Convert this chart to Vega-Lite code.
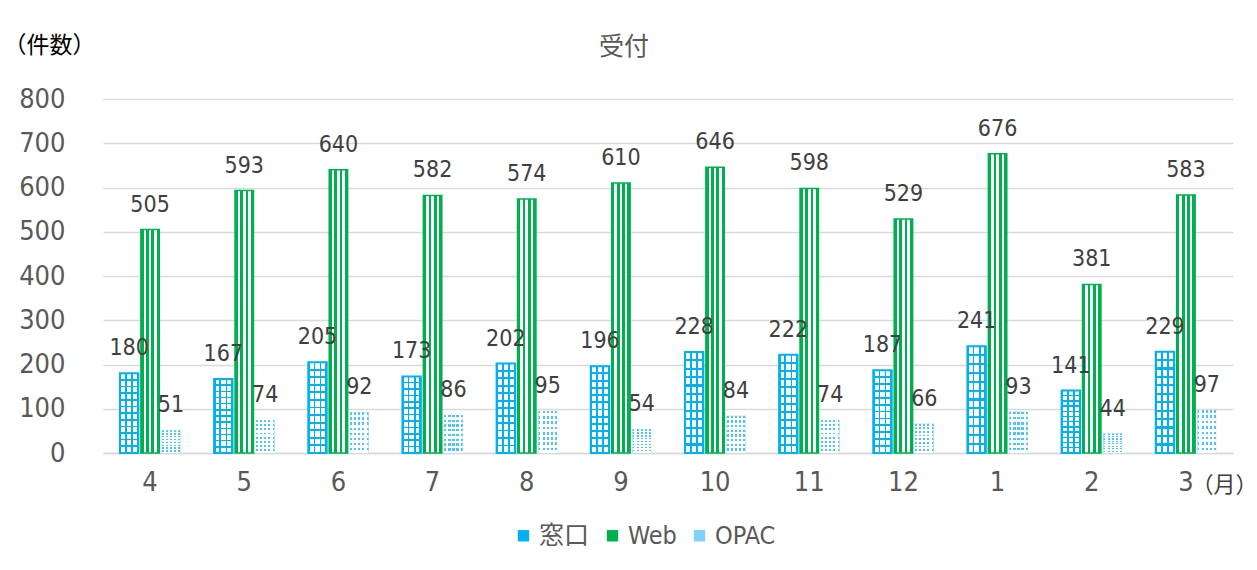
{
  "$schema": "https://vega.github.io/schema/vega-lite/v6.json",
  "width": 1130,
  "height": 354,
  "autosize": {"type": "none"},
  "padding": {"left": 103, "top": 99, "right": 24, "bottom": 117},
  "background": "white",
  "title": {
    "text": "受付",
    "anchor": "middle",
    "dx": -44,
    "offset": -51,
    "baseline": "bottom",
    "font": "Noto Sans CJK JP",
    "fontSize": 25,
    "fontWeight": "normal",
    "color": "#595959"
  },
  "config": {
    "view": {"stroke": null},
    "font": "Liberation Sans Narrow, DejaVu Sans Condensed, Noto Sans CJK JP, sans-serif"
  },
  "data": {
    "values": [
      {"month": "4", "series": "窓口", "value": 180},
      {"month": "4", "series": "Web", "value": 505},
      {"month": "4", "series": "OPAC", "value": 51},
      {"month": "5", "series": "窓口", "value": 167},
      {"month": "5", "series": "Web", "value": 593},
      {"month": "5", "series": "OPAC", "value": 74},
      {"month": "6", "series": "窓口", "value": 205},
      {"month": "6", "series": "Web", "value": 640},
      {"month": "6", "series": "OPAC", "value": 92},
      {"month": "7", "series": "窓口", "value": 173},
      {"month": "7", "series": "Web", "value": 582},
      {"month": "7", "series": "OPAC", "value": 86},
      {"month": "8", "series": "窓口", "value": 202},
      {"month": "8", "series": "Web", "value": 574},
      {"month": "8", "series": "OPAC", "value": 95},
      {"month": "9", "series": "窓口", "value": 196},
      {"month": "9", "series": "Web", "value": 610},
      {"month": "9", "series": "OPAC", "value": 54},
      {"month": "10", "series": "窓口", "value": 228},
      {"month": "10", "series": "Web", "value": 646},
      {"month": "10", "series": "OPAC", "value": 84},
      {"month": "11", "series": "窓口", "value": 222},
      {"month": "11", "series": "Web", "value": 598},
      {"month": "11", "series": "OPAC", "value": 74},
      {"month": "12", "series": "窓口", "value": 187},
      {"month": "12", "series": "Web", "value": 529},
      {"month": "12", "series": "OPAC", "value": 66},
      {"month": "1", "series": "窓口", "value": 241},
      {"month": "1", "series": "Web", "value": 676},
      {"month": "1", "series": "OPAC", "value": 93},
      {"month": "2", "series": "窓口", "value": 141},
      {"month": "2", "series": "Web", "value": 381},
      {"month": "2", "series": "OPAC", "value": 44},
      {"month": "3", "series": "窓口", "value": 229},
      {"month": "3", "series": "Web", "value": 583},
      {"month": "3", "series": "OPAC", "value": 97}
    ]
  },
  "encoding": {
    "x": {
      "field": "month",
      "type": "nominal",
      "sort": ["4", "5", "6", "7", "8", "9", "10", "11", "12", "1", "2", "3"],
      "scale": {"paddingInner": 0.36, "paddingOuter": 0.18},
      "axis": {
        "title": "（月）",
        "titleFont": "Noto Sans CJK JP",
        "titleFontSize": 22,
        "titleFontWeight": "normal",
        "titleColor": "#404040",
        "titleAlign": "left",
        "titleAnchor": null,
        "titleX": 1088,
        "titleY": 31,
        "titleBaseline": "middle",
        "labelAngle": 0,
        "labelFontSize": 27,
        "labelColor": "#595959",
        "labelPadding": 16,
        "ticks": false,
        "domainColor": "#d9d9d9",
        "domainWidth": 1.5,
        "grid": false
      }
    },
    "xOffset": {
      "field": "series",
      "type": "nominal",
      "sort": ["窓口", "Web", "OPAC"],
      "scale": {"domain": ["窓口", "Web", "OPAC"], "paddingInner": 0.12, "paddingOuter": 0}
    },
    "y": {
      "field": "value",
      "type": "quantitative",
      "scale": {"domain": [0, 800]},
      "axis": {
        "title": "（件数）",
        "titleFont": "Noto Sans CJK JP",
        "titleFontSize": 23,
        "titleFontWeight": "normal",
        "titleColor": "#000000",
        "titleAngle": 0,
        "titleAlign": "center",
        "titleAnchor": null,
        "titleBaseline": "middle",
        "titleX": -54,
        "titleY": -54,
        "values": [0, 100, 200, 300, 400, 500, 600, 700, 800],
        "labelFontSize": 27,
        "labelColor": "#595959",
        "labelPadding": 38,
        "ticks": false,
        "domain": false,
        "gridColor": "#d9d9d9",
        "gridWidth": 1.5
      }
    }
  },
  "layer": [
    {
      "mark": {"type": "bar"},
      "encoding": {
        "color": {
          "field": "series",
          "type": "nominal",
          "sort": ["窓口", "Web", "OPAC"],
          "scale": {"domain": ["窓口", "Web", "OPAC"], "range": ["#00B0F0", "#00B050", "#7FD3F7"]},
          "legend": {
            "title": null,
            "orient": "none",
            "direction": "horizontal",
            "legendX": 408,
            "legendY": 424,
            "symbolType": "square",
            "symbolSize": 130,
            "symbolStrokeWidth": 0,
            "labelFontSize": 25,
            "labelColor": "#595959",
            "labelOffset": 3,
            "columnSpacing": 14
          }
        }
      }
    },
    {
      "transform": [{"filter": "datum.series === '窓口'"}],
      "mark": {
        "type": "bar",
        "stroke": "#00B0F0",
        "strokeWidth": 2,
        "fill": {
          "gradient": "linear",
          "x1": 0, "y1": 0, "x2": 1, "y2": 0,
          "stops": [
            {"offset": 0, "color": "#00B0F0"},
            {"offset": 0.08, "color": "#00B0F0"},
            {"offset": 0.08, "color": "#ffffff"},
            {"offset": 0.29, "color": "#ffffff"},
            {"offset": 0.29, "color": "#00B0F0"},
            {"offset": 0.38, "color": "#00B0F0"},
            {"offset": 0.38, "color": "#ffffff"},
            {"offset": 0.62, "color": "#ffffff"},
            {"offset": 0.62, "color": "#00B0F0"},
            {"offset": 0.71, "color": "#00B0F0"},
            {"offset": 0.71, "color": "#ffffff"},
            {"offset": 0.92, "color": "#ffffff"},
            {"offset": 0.92, "color": "#00B0F0"},
            {"offset": 1, "color": "#00B0F0"}
          ]
        }
      }
    },
    {
      "transform": [{"filter": "datum.series === '窓口'"}],
      "mark": {
        "type": "bar",
        "fill": {
          "gradient": "linear",
          "x1": 0, "y1": 0, "x2": 0, "y2": 1,
          "stops": [
            {"offset": 0, "color": "rgba(255,255,255,0)"},
            {"offset": 0.071, "color": "rgba(255,255,255,0)"},
            {"offset": 0.071, "color": "#00B0F0"},
            {"offset": 0.092, "color": "#00B0F0"},
            {"offset": 0.092, "color": "rgba(255,255,255,0)"},
            {"offset": 0.155, "color": "rgba(255,255,255,0)"},
            {"offset": 0.155, "color": "#00B0F0"},
            {"offset": 0.176, "color": "#00B0F0"},
            {"offset": 0.176, "color": "rgba(255,255,255,0)"},
            {"offset": 0.238, "color": "rgba(255,255,255,0)"},
            {"offset": 0.238, "color": "#00B0F0"},
            {"offset": 0.259, "color": "#00B0F0"},
            {"offset": 0.259, "color": "rgba(255,255,255,0)"},
            {"offset": 0.321, "color": "rgba(255,255,255,0)"},
            {"offset": 0.321, "color": "#00B0F0"},
            {"offset": 0.342, "color": "#00B0F0"},
            {"offset": 0.342, "color": "rgba(255,255,255,0)"},
            {"offset": 0.405, "color": "rgba(255,255,255,0)"},
            {"offset": 0.405, "color": "#00B0F0"},
            {"offset": 0.426, "color": "#00B0F0"},
            {"offset": 0.426, "color": "rgba(255,255,255,0)"},
            {"offset": 0.488, "color": "rgba(255,255,255,0)"},
            {"offset": 0.488, "color": "#00B0F0"},
            {"offset": 0.509, "color": "#00B0F0"},
            {"offset": 0.509, "color": "rgba(255,255,255,0)"},
            {"offset": 0.571, "color": "rgba(255,255,255,0)"},
            {"offset": 0.571, "color": "#00B0F0"},
            {"offset": 0.592, "color": "#00B0F0"},
            {"offset": 0.592, "color": "rgba(255,255,255,0)"},
            {"offset": 0.655, "color": "rgba(255,255,255,0)"},
            {"offset": 0.655, "color": "#00B0F0"},
            {"offset": 0.676, "color": "#00B0F0"},
            {"offset": 0.676, "color": "rgba(255,255,255,0)"},
            {"offset": 0.738, "color": "rgba(255,255,255,0)"},
            {"offset": 0.738, "color": "#00B0F0"},
            {"offset": 0.759, "color": "#00B0F0"},
            {"offset": 0.759, "color": "rgba(255,255,255,0)"},
            {"offset": 0.821, "color": "rgba(255,255,255,0)"},
            {"offset": 0.821, "color": "#00B0F0"},
            {"offset": 0.842, "color": "#00B0F0"},
            {"offset": 0.842, "color": "rgba(255,255,255,0)"},
            {"offset": 0.905, "color": "rgba(255,255,255,0)"},
            {"offset": 0.905, "color": "#00B0F0"},
            {"offset": 0.926, "color": "#00B0F0"},
            {"offset": 0.926, "color": "rgba(255,255,255,0)"},
            {"offset": 1, "color": "rgba(255,255,255,0)"}
          ]
        }
      }
    },
    {
      "transform": [{"filter": "datum.series === 'Web'"}],
      "mark": {
        "type": "bar",
        "stroke": "#00B050",
        "strokeWidth": 1.5,
        "fill": {
          "gradient": "linear",
          "x1": 0, "y1": 0, "x2": 1, "y2": 0,
          "stops": [
            {"offset": 0, "color": "#00B050"},
            {"offset": 0.143, "color": "#00B050"},
            {"offset": 0.143, "color": "#ffffff"},
            {"offset": 0.286, "color": "#ffffff"},
            {"offset": 0.286, "color": "#00B050"},
            {"offset": 0.429, "color": "#00B050"},
            {"offset": 0.429, "color": "#ffffff"},
            {"offset": 0.571, "color": "#ffffff"},
            {"offset": 0.571, "color": "#00B050"},
            {"offset": 0.714, "color": "#00B050"},
            {"offset": 0.714, "color": "#ffffff"},
            {"offset": 0.857, "color": "#ffffff"},
            {"offset": 0.857, "color": "#00B050"},
            {"offset": 1, "color": "#00B050"}
          ]
        }
      }
    },
    {
      "transform": [{"filter": "datum.series === 'OPAC'"}],
      "mark": {
        "type": "bar",
        "fill": {
          "gradient": "linear",
          "x1": 0, "y1": 0, "x2": 1, "y2": 0,
          "stops": [
            {"offset": 0, "color": "#4FC3F7"},
            {"offset": 0.1, "color": "#4FC3F7"},
            {"offset": 0.1, "color": "#ffffff"},
            {"offset": 0.22, "color": "#ffffff"},
            {"offset": 0.22, "color": "#4FC3F7"},
            {"offset": 0.34, "color": "#4FC3F7"},
            {"offset": 0.34, "color": "#ffffff"},
            {"offset": 0.44, "color": "#ffffff"},
            {"offset": 0.44, "color": "#4FC3F7"},
            {"offset": 0.56, "color": "#4FC3F7"},
            {"offset": 0.56, "color": "#ffffff"},
            {"offset": 0.66, "color": "#ffffff"},
            {"offset": 0.66, "color": "#4FC3F7"},
            {"offset": 0.78, "color": "#4FC3F7"},
            {"offset": 0.78, "color": "#ffffff"},
            {"offset": 0.9, "color": "#ffffff"},
            {"offset": 0.9, "color": "#4FC3F7"},
            {"offset": 1, "color": "#4FC3F7"}
          ]
        }
      }
    },
    {
      "transform": [{"filter": "datum.series === 'OPAC'"}],
      "mark": {
        "type": "bar",
        "fill": {
          "gradient": "linear",
          "x1": 0, "y1": 0, "x2": 0, "y2": 1,
          "stops": [
            {"offset": 0, "color": "rgba(255,255,255,0)"},
            {"offset": 0.06, "color": "rgba(255,255,255,0)"},
            {"offset": 0.06, "color": "#ffffff"},
            {"offset": 0.125, "color": "#ffffff"},
            {"offset": 0.125, "color": "rgba(255,255,255,0)"},
            {"offset": 0.185, "color": "rgba(255,255,255,0)"},
            {"offset": 0.185, "color": "#ffffff"},
            {"offset": 0.25, "color": "#ffffff"},
            {"offset": 0.25, "color": "rgba(255,255,255,0)"},
            {"offset": 0.31, "color": "rgba(255,255,255,0)"},
            {"offset": 0.31, "color": "#ffffff"},
            {"offset": 0.375, "color": "#ffffff"},
            {"offset": 0.375, "color": "rgba(255,255,255,0)"},
            {"offset": 0.435, "color": "rgba(255,255,255,0)"},
            {"offset": 0.435, "color": "#ffffff"},
            {"offset": 0.5, "color": "#ffffff"},
            {"offset": 0.5, "color": "rgba(255,255,255,0)"},
            {"offset": 0.56, "color": "rgba(255,255,255,0)"},
            {"offset": 0.56, "color": "#ffffff"},
            {"offset": 0.625, "color": "#ffffff"},
            {"offset": 0.625, "color": "rgba(255,255,255,0)"},
            {"offset": 0.685, "color": "rgba(255,255,255,0)"},
            {"offset": 0.685, "color": "#ffffff"},
            {"offset": 0.75, "color": "#ffffff"},
            {"offset": 0.75, "color": "rgba(255,255,255,0)"},
            {"offset": 0.81, "color": "rgba(255,255,255,0)"},
            {"offset": 0.81, "color": "#ffffff"},
            {"offset": 0.875, "color": "#ffffff"},
            {"offset": 0.875, "color": "rgba(255,255,255,0)"},
            {"offset": 0.935, "color": "rgba(255,255,255,0)"},
            {"offset": 0.935, "color": "#ffffff"},
            {"offset": 1, "color": "#ffffff"}
          ]
        }
      }
    },
    {
      "mark": {
        "type": "text",
        "baseline": "alphabetic",
        "dy": -18,
        "fontSize": 23,
        "color": "#404040"
      },
      "encoding": {
        "text": {"field": "value", "type": "quantitative"}
      }
    }
  ]
}
